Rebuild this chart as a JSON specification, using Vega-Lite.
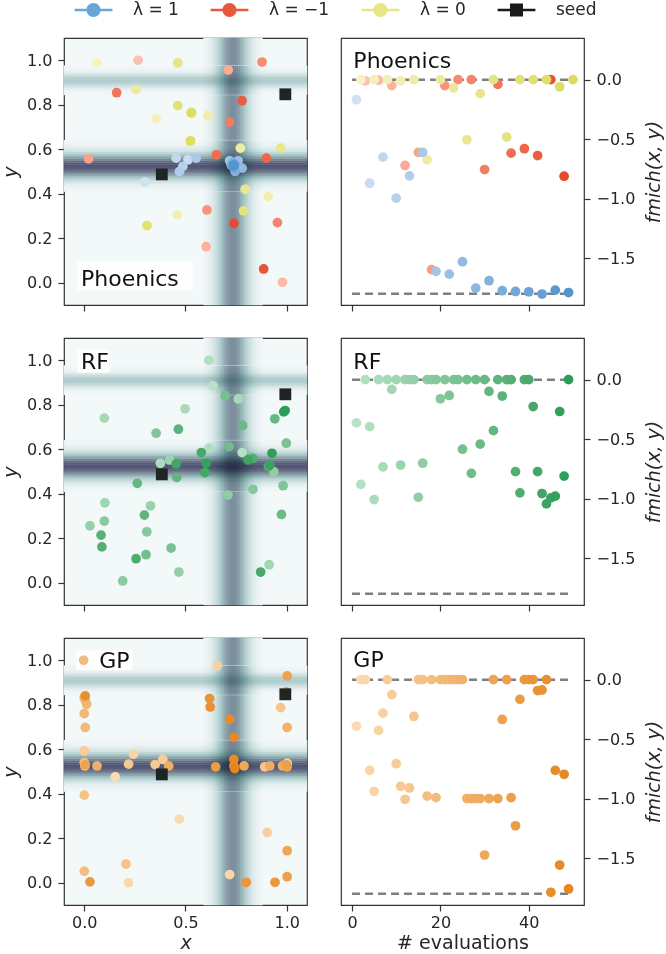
{
"$schema":"https://vega.github.io/schema/vega-lite/v6.json",
"background":"white",
"padding":{"left":0,"top":0,"right":2,"bottom":0},
"config":{
 "font":"DejaVu Sans",
 "view":{"stroke":"#333333","strokeWidth":1.2},
 "axis":{"domain":false,"grid":false,"ticks":true,"tickColor":"#333333","tickWidth":1.2,"tickSize":6,"labelFont":"DejaVu Sans","labelFontSize":16,"labelColor":"#262626","labelPadding":6,"titleFont":"DejaVu Sans","titleFontSize":19,"titleFontWeight":"normal","titleColor":"#262626","labelFlush":false,"labelOverlap":false},
 "axisY":{"titlePadding":6},
 "axisX":{"titlePadding":3.5,"labelPadding":3}
},
"datasets":{
 "bandsV":[{"x0":0.59,"x1":0.6,"f":-0.024},{"x0":0.6,"x1":0.61,"f":-0.039},{"x0":0.61,"x1":0.62,"f":-0.061},{"x0":0.62,"x1":0.63,"f":-0.092},{"x0":0.63,"x1":0.64,"f":-0.134},{"x0":0.64,"x1":0.65,"f":-0.188},{"x0":0.65,"x1":0.66,"f":-0.254},{"x0":0.66,"x1":0.67,"f":-0.333},{"x0":0.67,"x1":0.68,"f":-0.42},{"x0":0.68,"x1":0.69,"f":-0.511},{"x0":0.69,"x1":0.7,"f":-0.601},{"x0":0.7,"x1":0.71,"f":-0.681},{"x0":0.71,"x1":0.72,"f":-0.745},{"x0":0.72,"x1":0.73,"f":-0.786},{"x0":0.73,"x1":0.74,"f":-0.8},{"x0":0.74,"x1":0.75,"f":-0.786},{"x0":0.75,"x1":0.76,"f":-0.745},{"x0":0.76,"x1":0.77,"f":-0.681},{"x0":0.77,"x1":0.78,"f":-0.601},{"x0":0.78,"x1":0.79,"f":-0.511},{"x0":0.79,"x1":0.8,"f":-0.42},{"x0":0.8,"x1":0.81,"f":-0.333},{"x0":0.81,"x1":0.82,"f":-0.254},{"x0":0.82,"x1":0.83,"f":-0.188},{"x0":0.83,"x1":0.84,"f":-0.134},{"x0":0.84,"x1":0.85,"f":-0.092},{"x0":0.85,"x1":0.86,"f":-0.061},{"x0":0.86,"x1":0.87,"f":-0.039},{"x0":0.87,"x1":0.88,"f":-0.024}],
 "bandsH":[{"y0":0.41,"y1":0.42,"f":-0.015},{"y0":0.42,"y1":0.43,"f":-0.031},{"y0":0.43,"y1":0.44,"f":-0.063},{"y0":0.44,"y1":0.45,"f":-0.114},{"y0":0.45,"y1":0.46,"f":-0.195},{"y0":0.46,"y1":0.47,"f":-0.31},{"y0":0.47,"y1":0.48,"f":-0.459},{"y0":0.48,"y1":0.49,"f":-0.633},{"y0":0.49,"y1":0.5,"f":-0.812},{"y0":0.5,"y1":0.51,"f":-0.971},{"y0":0.51,"y1":0.52,"f":-1.081},{"y0":0.52,"y1":0.53,"f":-1.12},{"y0":0.53,"y1":0.54,"f":-1.081},{"y0":0.54,"y1":0.55,"f":-0.971},{"y0":0.55,"y1":0.56,"f":-0.812},{"y0":0.56,"y1":0.57,"f":-0.633},{"y0":0.57,"y1":0.58,"f":-0.459},{"y0":0.58,"y1":0.59,"f":-0.31},{"y0":0.59,"y1":0.6,"f":-0.195},{"y0":0.6,"y1":0.61,"f":-0.114},{"y0":0.61,"y1":0.62,"f":-0.063},{"y0":0.62,"y1":0.63,"f":-0.031},{"y0":0.63,"y1":0.64,"f":-0.015},{"y0":0.845,"y1":0.855,"f":-0.009},{"y0":0.855,"y1":0.865,"f":-0.028},{"y0":0.865,"y1":0.875,"f":-0.074},{"y0":0.875,"y1":0.885,"f":-0.156},{"y0":0.885,"y1":0.895,"f":-0.267},{"y0":0.895,"y1":0.905,"f":-0.368},{"y0":0.905,"y1":0.915,"f":-0.41},{"y0":0.915,"y1":0.925,"f":-0.368},{"y0":0.925,"y1":0.935,"f":-0.267},{"y0":0.935,"y1":0.945,"f":-0.156},{"y0":0.945,"y1":0.955,"f":-0.074},{"y0":0.955,"y1":0.965,"f":-0.028},{"y0":0.965,"y1":0.975,"f":-0.009}],
 "phoenics":[{"e":1,"lam":1,"x":0.3,"y":0.452,"f":-0.169},{"e":2,"lam":0,"x":0.061,"y":0.988,"f":0},{"e":3,"lam":-1,"x":0.266,"y":1.0,"f":-0.01},{"e":4,"lam":1,"x":0.512,"y":0.553,"f":-0.871},{"e":5,"lam":0,"x":0.355,"y":0.737,"f":0},{"e":6,"lam":-1,"x":0.979,"y":0.002,"f":-0.005},{"e":7,"lam":1,"x":0.454,"y":0.56,"f":-0.652},{"e":8,"lam":0,"x":0.459,"y":0.305,"f":0},{"e":9,"lam":-1,"x":0.602,"y":0.162,"f":-0.05},{"e":10,"lam":1,"x":0.487,"y":0.523,"f":-0.997},{"e":11,"lam":0,"x":0.909,"y":0.387,"f":-0.01},{"e":12,"lam":-1,"x":0.711,"y":0.956,"f":-0.722},{"e":13,"lam":1,"x":0.47,"y":0.5,"f":-0.809},{"e":14,"lam":0,"x":0.611,"y":0.752,"f":0},{"e":15,"lam":-1,"x":0.021,"y":0.557,"f":-0.612},{"e":16,"lam":1,"x":0.553,"y":0.56,"f":-0.612},{"e":17,"lam":0,"x":0.771,"y":0.605,"f":-0.674},{"e":18,"lam":-1,"x":0.728,"y":0.535,"f":-1.598},{"e":19,"lam":1,"x":0.718,"y":0.548,"f":-1.612},{"e":20,"lam":0,"x":0.256,"y":0.868,"f":0},{"e":21,"lam":-1,"x":0.606,"y":0.327,"f":-0.05},{"e":22,"lam":1,"x":0.76,"y":0.548,"f":-1.635},{"e":23,"lam":0,"x":0.523,"y":0.635,"f":-0.07},{"e":24,"lam":-1,"x":0.878,"y":0.992,"f":0},{"e":25,"lam":1,"x":0.78,"y":0.515,"f":-1.531},{"e":26,"lam":0,"x":0.795,"y":0.42,"f":-0.506},{"e":27,"lam":-1,"x":0.954,"y":0.27,"f":0},{"e":28,"lam":1,"x":0.725,"y":0.53,"f":-1.753},{"e":29,"lam":0,"x":0.97,"y":0.605,"f":-0.118},{"e":30,"lam":-1,"x":0.718,"y":0.722,"f":-0.756},{"e":31,"lam":1,"x":0.745,"y":0.5,"f":-1.691},{"e":32,"lam":0,"x":0.462,"y":0.988,"f":0},{"e":33,"lam":-1,"x":0.16,"y":0.854,"f":-0.04},{"e":34,"lam":1,"x":0.735,"y":0.54,"f":-1.775},{"e":35,"lam":0,"x":0.787,"y":0.323,"f":-0.483},{"e":36,"lam":-1,"x":0.653,"y":0.575,"f":-0.618},{"e":37,"lam":1,"x":0.74,"y":0.515,"f":-1.781},{"e":38,"lam":0,"x":0.462,"y":0.796,"f":0},{"e":39,"lam":-1,"x":0.899,"y":0.56,"f":-0.581},{"e":40,"lam":1,"x":0.732,"y":0.525,"f":-1.784},{"e":41,"lam":0,"x":0.31,"y":0.257,"f":0},{"e":42,"lam":-1,"x":0.779,"y":0.818,"f":-0.638},{"e":43,"lam":1,"x":0.738,"y":0.522,"f":-1.803},{"e":44,"lam":0,"x":0.528,"y":0.763,"f":0},{"e":45,"lam":-1,"x":0.886,"y":0.062,"f":0},{"e":46,"lam":1,"x":0.742,"y":0.53,"f":-1.77},{"e":47,"lam":0,"x":0.525,"y":0.638,"f":-0.06},{"e":48,"lam":-1,"x":0.739,"y":0.267,"f":-0.812},{"e":49,"lam":1,"x":0.736,"y":0.527,"f":-1.79},{"e":50,"lam":0,"x":0.53,"y":0.765,"f":0}],
 "rf":[{"e":1,"x":0.635,"y":0.886,"f":-0.364},{"e":2,"x":0.78,"y":0.585,"f":-0.881},{"e":3,"x":0.616,"y":1.0,"f":0},{"e":4,"x":0.616,"y":0.605,"f":-0.395},{"e":5,"x":0.376,"y":0.537,"f":-1.008},{"e":6,"x":0.498,"y":0.782,"f":0},{"e":7,"x":0.761,"y":0.826,"f":-0.734},{"e":8,"x":0.099,"y":0.74,"f":0},{"e":9,"x":0.913,"y":0.081,"f":-0.082},{"e":10,"x":0.102,"y":0.359,"f":0},{"e":11,"x":0.421,"y":0.552,"f":-0.718},{"e":12,"x":0.327,"y":0.346,"f":0},{"e":13,"x":0.028,"y":0.256,"f":0},{"e":14,"x":0.467,"y":0.048,"f":0},{"e":15,"x":0.936,"y":0.499,"f":-0.989},{"e":16,"x":0.71,"y":0.394,"f":-0.703},{"e":17,"x":0.19,"y":0.008,"f":0},{"e":18,"x":0.099,"y":0.277,"f":0},{"e":19,"x":0.309,"y":0.229,"f":0},{"e":20,"x":0.833,"y":0.42,"f":-0.161},{"e":21,"x":0.355,"y":0.672,"f":0},{"e":22,"x":0.982,"y":0.436,"f":-0.133},{"e":23,"x":0.998,"y":0.627,"f":0},{"e":24,"x":0.429,"y":0.156,"f":0},{"e":25,"x":0.696,"y":0.841,"f":-0.585},{"e":26,"x":0.305,"y":0.126,"f":0},{"e":27,"x":0.715,"y":0.612,"f":-0.788},{"e":28,"x":0.974,"y":0.307,"f":0},{"e":29,"x":0.782,"y":0.707,"f":-0.542},{"e":30,"x":0.941,"y":0.737,"f":0},{"e":31,"x":0.262,"y":0.447,"f":-0.099},{"e":32,"x":0.457,"y":0.474,"f":-0.429},{"e":33,"x":0.297,"y":0.304,"f":0},{"e":34,"x":0.465,"y":0.69,"f":-0.138},{"e":35,"x":0.083,"y":0.214,"f":0},{"e":36,"x":0.087,"y":0.161,"f":0},{"e":37,"x":0.833,"y":0.559,"f":-0.774},{"e":38,"x":0.909,"y":0.522,"f":-0.952},{"e":39,"x":0.256,"y":0.108,"f":0},{"e":40,"x":0.871,"y":0.048,"f":0},{"e":41,"x":0.578,"y":0.585,"f":-0.226},{"e":42,"x":0.596,"y":0.495,"f":-0.774},{"e":43,"x":0.454,"y":0.534,"f":-0.958},{"e":44,"x":0.809,"y":0.552,"f":-1.045},{"e":45,"x":0.916,"y":0.529,"f":-0.994},{"e":46,"x":0.602,"y":0.537,"f":-0.98},{"e":47,"x":0.927,"y":0.582,"f":-0.268},{"e":48,"x":0.985,"y":0.768,"f":-0.811},{"e":49,"x":0.992,"y":0.774,"f":0}],
 "gp":[{"e":1,"x":0.153,"y":0.476,"f":-0.391},{"e":2,"x":0.47,"y":0.286,"f":0},{"e":3,"x":0.219,"y":0.0,"f":0},{"e":4,"x":0.718,"y":0.037,"f":-0.763},{"e":5,"x":1.002,"y":0.536,"f":-0.939},{"e":6,"x":0.243,"y":0.578,"f":-0.427},{"e":7,"x":0.657,"y":0.975,"f":-0.282},{"e":8,"x":0.904,"y":0.226,"f":0},{"e":9,"x":0.0,"y":0.593,"f":-0.126},{"e":10,"x":0.388,"y":0.554,"f":-0.707},{"e":11,"x":0.35,"y":0.531,"f":-0.897},{"e":12,"x":0.219,"y":0.533,"f":-1.006},{"e":13,"x":0.891,"y":0.521,"f":-0.911},{"e":14,"x":0.97,"y":0.787,"f":-0.31},{"e":15,"x":0.206,"y":0.084,"f":0},{"e":16,"x":0.0,"y":0.394,"f":0},{"e":17,"x":0.0,"y":0.54,"f":-0.98},{"e":18,"x":0.0,"y":0.052,"f":0},{"e":19,"x":0.003,"y":0.525,"f":-0.992},{"e":20,"x":0.005,"y":0.698,"f":0},{"e":21,"x":0.0,"y":0.76,"f":0},{"e":22,"x":0.012,"y":0.802,"f":0},{"e":23,"x":0.005,"y":0.82,"f":0},{"e":24,"x":0.0,"y":0.832,"f":0},{"e":25,"x":1.002,"y":0.698,"f":0},{"e":26,"x":0.063,"y":0.525,"f":-1.0},{"e":27,"x":0.417,"y":0.525,"f":-1.0},{"e":28,"x":0.916,"y":0.525,"f":-1.0},{"e":29,"x":0.979,"y":0.525,"f":-1.0},{"e":30,"x":0.789,"y":0.525,"f":-1.475},{"e":31,"x":1.002,"y":0.521,"f":-1.0},{"e":32,"x":1.002,"y":0.144,"f":0},{"e":33,"x":0.005,"y":0.53,"f":-1.0},{"e":34,"x":1.002,"y":0.93,"f":-0.335},{"e":35,"x":1.002,"y":0.027,"f":0},{"e":36,"x":0.998,"y":0.53,"f":-0.992},{"e":37,"x":0.649,"y":0.521,"f":-1.229},{"e":38,"x":0.998,"y":0.858,"f":-0.165},{"e":39,"x":0.028,"y":0.004,"f":0},{"e":40,"x":0.942,"y":0.002,"f":0},{"e":41,"x":0.8,"y":0.002,"f":0},{"e":42,"x":0.619,"y":0.828,"f":-0.092},{"e":43,"x":0.622,"y":0.79,"f":-0.087},{"e":44,"x":0.005,"y":0.84,"f":0},{"e":45,"x":0.739,"y":0.525,"f":-1.788},{"e":46,"x":0.718,"y":0.735,"f":-0.763},{"e":47,"x":0.739,"y":0.554,"f":-1.559},{"e":48,"x":0.739,"y":0.653,"f":-0.796},{"e":49,"x":0.743,"y":0.513,"f":-1.76}],
 "seeds":[{"x":0.383,"y":0.487},{"x":0.993,"y":0.847}],
 "levels":[{"lo":0,"hi":50,"level":0},{"lo":0,"hi":50,"level":-1.8013}],
 "legendItems":[{"s":"λ = 1"},{"s":"λ = −1"},{"s":"λ = 0"},{"s":"seed"}]
},
"columns":2,
"spacing":{"row":33,"column":34},
"bounds":"flush",
"resolve":{"scale":{"color":"independent","fill":"independent","stroke":"independent","shape":"independent"}},
"concat":[
 {"width":243,"height":267,"view":{"fill":"#f3f8f9"},
  "resolve":{"scale":{"color":"independent","fill":"independent","stroke":"independent","shape":"independent"}},
  "layer":[
   {"data":{"name":"bandsV"},"mark":{"type":"rect","strokeWidth":0.6},"encoding":{"x":{"field":"x0","type":"quantitative","scale":{"domain":[-0.1,1.1],"nice":false,"zero":false},"axis":{"values":[0,0.5,1],"labels":false,"title":null}},"x2":{"field":"x1"},"y":{"datum":-0.1,"type":"quantitative","scale":{"domain":[-0.1,1.1],"nice":false,"zero":false},"axis":{"values":[0,0.2,0.4,0.6,0.8,1],"format":".1f","title":"y","titleFontStyle":"italic"}},"y2":{"datum":1.1},"fill":{"field":"f","type":"quantitative","scale":{"domain":[-1.8,-1.143,-0.457,0],"range":["#000000","#515171","#a6c6c6","#f3f8f9"],"interpolate":"rgb","clamp":true},"legend":null},"stroke":{"field":"f","type":"quantitative","scale":{"domain":[-1.8,-1.143,-0.457,0],"range":["#000000","#515171","#a6c6c6","#f3f8f9"],"interpolate":"rgb","clamp":true},"legend":null}}},
   {"data":{"name":"bandsH"},"mark":{"type":"rect","strokeWidth":0.6},"encoding":{"x":{"datum":-0.1,"type":"quantitative","scale":{"domain":[-0.1,1.1],"nice":false,"zero":false}},"x2":{"datum":1.1},"y":{"field":"y0","type":"quantitative","scale":{"domain":[-0.1,1.1],"nice":false,"zero":false}},"y2":{"field":"y1"},"fill":{"field":"f","type":"quantitative","scale":{"domain":[-1.8,-1.143,-0.457,0],"range":["#000000","#515171","#a6c6c6","#f3f8f9"],"interpolate":"rgb","clamp":true},"legend":null},"stroke":{"field":"f","type":"quantitative","scale":{"domain":[-1.8,-1.143,-0.457,0],"range":["#000000","#515171","#a6c6c6","#f3f8f9"],"interpolate":"rgb","clamp":true},"legend":null}}},
   {"data":{"name":"bandsV"},"mark":{"type":"rect","blend":"multiply"},"encoding":{"x":{"field":"x0","type":"quantitative","scale":{"domain":[-0.1,1.1],"nice":false,"zero":false}},"x2":{"field":"x1"},"y":{"datum":0.41,"type":"quantitative","scale":{"domain":[-0.1,1.1],"nice":false,"zero":false}},"y2":{"datum":0.64},"fill":{"field":"f","type":"quantitative","scale":{"domain":[-1.8,-1.143,-0.457,0],"range":["#000000","#515171","#a6c6c6","#ffffff"],"interpolate":"rgb","clamp":true},"legend":null}}},
   {"data":{"name":"bandsV"},"mark":{"type":"rect","blend":"multiply"},"encoding":{"x":{"field":"x0","type":"quantitative","scale":{"domain":[-0.1,1.1],"nice":false,"zero":false}},"x2":{"field":"x1"},"y":{"datum":0.845,"type":"quantitative","scale":{"domain":[-0.1,1.1],"nice":false,"zero":false}},"y2":{"datum":0.975},"fill":{"field":"f","type":"quantitative","scale":{"domain":[-1.8,-1.143,-0.457,0],"range":["#000000","#515171","#a6c6c6","#ffffff"],"interpolate":"rgb","clamp":true},"legend":null}}},
   {"data":{"name":"phoenics"},"transform":[{"filter":"datum.lam == -1"}],"mark":{"type":"circle","size":95,"opacity":1},"encoding":{"x":{"field":"x","type":"quantitative","scale":{"domain":[-0.1,1.1],"nice":false,"zero":false}},"y":{"field":"y","type":"quantitative","scale":{"domain":[-0.1,1.1],"nice":false,"zero":false}},"color":{"field":"e","type":"quantitative","scale":{"domain":[1,50],"range":["#fcc5b6","#e4442a"]},"legend":null}}},
   {"data":{"name":"phoenics"},"transform":[{"filter":"datum.lam == 0"}],"mark":{"type":"circle","size":95,"opacity":1},"encoding":{"x":{"field":"x","type":"quantitative","scale":{"domain":[-0.1,1.1],"nice":false,"zero":false}},"y":{"field":"y","type":"quantitative","scale":{"domain":[-0.1,1.1],"nice":false,"zero":false}},"color":{"field":"e","type":"quantitative","scale":{"domain":[1,50],"range":["#f5f3c6","#dcdd5e"]},"legend":null}}},
   {"data":{"name":"phoenics"},"transform":[{"filter":"datum.lam == 1"}],"mark":{"type":"circle","size":95,"opacity":1},"encoding":{"x":{"field":"x","type":"quantitative","scale":{"domain":[-0.1,1.1],"nice":false,"zero":false}},"y":{"field":"y","type":"quantitative","scale":{"domain":[-0.1,1.1],"nice":false,"zero":false}},"color":{"field":"e","type":"quantitative","scale":{"domain":[1,50],"range":["#cfe1f2","#4f93cf"]},"legend":null}}},
   {"data":{"name":"seeds"},"mark":{"type":"square","size":140,"opacity":1,"color":"#1f2424"},"encoding":{"x":{"field":"x","type":"quantitative","scale":{"domain":[-0.1,1.1],"nice":false,"zero":false}},"y":{"field":"y","type":"quantitative","scale":{"domain":[-0.1,1.1],"nice":false,"zero":false}}}},
   {"data":{"values":[{"label":"Phoenics"}]},"mark":{"type":"rect","color":"#ffffff","opacity":0.85},"encoding":{"x":{"datum":-0.035,"type":"quantitative","scale":{"domain":[-0.1,1.1],"nice":false,"zero":false}},"x2":{"datum":0.535},"y":{"datum":-0.033,"type":"quantitative","scale":{"domain":[-0.1,1.1],"nice":false,"zero":false}},"y2":{"datum":0.095}}},
   {"data":{"values":[{"label":"Phoenics"}]},"mark":{"type":"text","align":"left","baseline":"alphabetic","fontSize":22,"color":"#111111"},"encoding":{"x":{"datum":-0.016,"type":"quantitative","scale":{"domain":[-0.1,1.1],"nice":false,"zero":false}},"y":{"datum":-0.015,"type":"quantitative","scale":{"domain":[-0.1,1.1],"nice":false,"zero":false}},"text":{"field":"label"}}},
   {"data":{"name":"legendItems"},"mark":{"type":"point","filled":true,"opacity":1,"clip":true},"encoding":{"x":{"datum":-5,"type":"quantitative","scale":{"domain":[-0.1,1.1],"nice":false,"zero":false}},"y":{"datum":-5,"type":"quantitative","scale":{"domain":[-0.1,1.1],"nice":false,"zero":false}},
     "color":{"field":"s","type":"nominal","scale":{"domain":["λ = 1","λ = −1","λ = 0","seed"],"range":["#6aa5d8","#e9573e","#e6e687","#1a1a1a"]},"legend":{"orient":"none","legendX":21,"legendY":-36.8,"direction":"horizontal","columns":4,"title":null,"labelFontSize":17,"labelColor":"#262626","labelFont":"DejaVu Sans","symbolSize":196,"symbolStrokeWidth":0,"symbolOpacity":1,"labelOffset":31,"columnPadding":31,"padding":0,"rowPadding":0}},
     "shape":{"field":"s","type":"nominal","scale":{"domain":["λ = 1","λ = −1","λ = 0","seed"],"range":["M-2.7,-0.18H2.7V0.18H-2.7ZM-1,0A1,1,0,1,1,1,0A1,1,0,1,1,-1,0Z","M-2.7,-0.18H2.7V0.18H-2.7ZM-1,0A1,1,0,1,1,1,0A1,1,0,1,1,-1,0Z","M-2.7,-0.18H2.7V0.18H-2.7ZM-1,0A1,1,0,1,1,1,0A1,1,0,1,1,-1,0Z","M-2.7,-0.18H2.7V0.18H-2.7ZM-0.93,-0.93H0.93V0.93H-0.93Z"]},"legend":{"orient":"none","legendX":21,"legendY":-36.8,"direction":"horizontal","columns":4,"title":null,"labelFontSize":17,"labelColor":"#262626","labelFont":"DejaVu Sans","symbolSize":196,"symbolStrokeWidth":0,"symbolOpacity":1,"labelOffset":31,"columnPadding":31,"padding":0,"rowPadding":0}}}}
  ]},
 {"width":243,"height":267,
  "resolve":{"scale":{"color":"independent","fill":"independent","stroke":"independent","shape":"independent"}},
  "layer":[
   {"data":{"name":"levels"},"mark":{"type":"rule","strokeDash":[8,5],"strokeWidth":2.5,"color":"#7f7f7f"},"encoding":{"x":{"field":"lo","type":"quantitative","scale":{"domain":[-2.5,52.5],"nice":false,"zero":false},"axis":{"values":[0,20,40],"labels":false,"title":null}},"x2":{"field":"hi"},"y":{"field":"level","type":"quantitative","scale":{"domain":[-1.895,0.35],"nice":false,"zero":false},"axis":{"orient":"right","values":[0,-0.5,-1,-1.5],"format":".1f","title":"fmich(x, y)","titleFontStyle":"italic","titleAngle":270,"titleBaseline":"top","titlePadding":10}}}},
   {"data":{"name":"phoenics"},"transform":[{"filter":"datum.lam == -1"}],"mark":{"type":"circle","size":95,"opacity":1},"encoding":{"x":{"field":"e","type":"quantitative","scale":{"domain":[-2.5,52.5],"nice":false,"zero":false}},"y":{"field":"f","type":"quantitative","scale":{"domain":[-1.895,0.35],"nice":false,"zero":false}},"color":{"field":"e","type":"quantitative","scale":{"domain":[1,50],"range":["#fcc5b6","#e4442a"]},"legend":null}}},
   {"data":{"name":"phoenics"},"transform":[{"filter":"datum.lam == 0"}],"mark":{"type":"circle","size":95,"opacity":1},"encoding":{"x":{"field":"e","type":"quantitative","scale":{"domain":[-2.5,52.5],"nice":false,"zero":false}},"y":{"field":"f","type":"quantitative","scale":{"domain":[-1.895,0.35],"nice":false,"zero":false}},"color":{"field":"e","type":"quantitative","scale":{"domain":[1,50],"range":["#f5f3c6","#dcdd5e"]},"legend":null}}},
   {"data":{"name":"phoenics"},"transform":[{"filter":"datum.lam == 1"}],"mark":{"type":"circle","size":95,"opacity":1},"encoding":{"x":{"field":"e","type":"quantitative","scale":{"domain":[-2.5,52.5],"nice":false,"zero":false}},"y":{"field":"f","type":"quantitative","scale":{"domain":[-1.895,0.35],"nice":false,"zero":false}},"color":{"field":"e","type":"quantitative","scale":{"domain":[1,50],"range":["#cfe1f2","#4f93cf"]},"legend":null}}},
   {"data":{"values":[{"label":"Phoenics"}]},"mark":{"type":"text","align":"left","baseline":"alphabetic","fontSize":22,"color":"#111111"},"encoding":{"x":{"datum":0.3,"type":"quantitative","scale":{"domain":[-2.5,52.5],"nice":false,"zero":false}},"y":{"datum":0.1,"type":"quantitative","scale":{"domain":[-1.895,0.35],"nice":false,"zero":false}},"text":{"field":"label"}}}
  ]},
 {"width":243,"height":267,"view":{"fill":"#f3f8f9"},
  "resolve":{"scale":{"color":"independent","fill":"independent","stroke":"independent","shape":"independent"}},
  "layer":[
   {"data":{"name":"bandsV"},"mark":{"type":"rect","strokeWidth":0.6},"encoding":{"x":{"field":"x0","type":"quantitative","scale":{"domain":[-0.1,1.1],"nice":false,"zero":false},"axis":{"values":[0,0.5,1],"labels":false,"title":null}},"x2":{"field":"x1"},"y":{"datum":-0.1,"type":"quantitative","scale":{"domain":[-0.1,1.1],"nice":false,"zero":false},"axis":{"values":[0,0.2,0.4,0.6,0.8,1],"format":".1f","title":"y","titleFontStyle":"italic"}},"y2":{"datum":1.1},"fill":{"field":"f","type":"quantitative","scale":{"domain":[-1.8,-1.143,-0.457,0],"range":["#000000","#515171","#a6c6c6","#f3f8f9"],"interpolate":"rgb","clamp":true},"legend":null},"stroke":{"field":"f","type":"quantitative","scale":{"domain":[-1.8,-1.143,-0.457,0],"range":["#000000","#515171","#a6c6c6","#f3f8f9"],"interpolate":"rgb","clamp":true},"legend":null}}},
   {"data":{"name":"bandsH"},"mark":{"type":"rect","strokeWidth":0.6},"encoding":{"x":{"datum":-0.1,"type":"quantitative","scale":{"domain":[-0.1,1.1],"nice":false,"zero":false}},"x2":{"datum":1.1},"y":{"field":"y0","type":"quantitative","scale":{"domain":[-0.1,1.1],"nice":false,"zero":false}},"y2":{"field":"y1"},"fill":{"field":"f","type":"quantitative","scale":{"domain":[-1.8,-1.143,-0.457,0],"range":["#000000","#515171","#a6c6c6","#f3f8f9"],"interpolate":"rgb","clamp":true},"legend":null},"stroke":{"field":"f","type":"quantitative","scale":{"domain":[-1.8,-1.143,-0.457,0],"range":["#000000","#515171","#a6c6c6","#f3f8f9"],"interpolate":"rgb","clamp":true},"legend":null}}},
   {"data":{"name":"bandsV"},"mark":{"type":"rect","blend":"multiply"},"encoding":{"x":{"field":"x0","type":"quantitative","scale":{"domain":[-0.1,1.1],"nice":false,"zero":false}},"x2":{"field":"x1"},"y":{"datum":0.41,"type":"quantitative","scale":{"domain":[-0.1,1.1],"nice":false,"zero":false}},"y2":{"datum":0.64},"fill":{"field":"f","type":"quantitative","scale":{"domain":[-1.8,-1.143,-0.457,0],"range":["#000000","#515171","#a6c6c6","#ffffff"],"interpolate":"rgb","clamp":true},"legend":null}}},
   {"data":{"name":"bandsV"},"mark":{"type":"rect","blend":"multiply"},"encoding":{"x":{"field":"x0","type":"quantitative","scale":{"domain":[-0.1,1.1],"nice":false,"zero":false}},"x2":{"field":"x1"},"y":{"datum":0.845,"type":"quantitative","scale":{"domain":[-0.1,1.1],"nice":false,"zero":false}},"y2":{"datum":0.975},"fill":{"field":"f","type":"quantitative","scale":{"domain":[-1.8,-1.143,-0.457,0],"range":["#000000","#515171","#a6c6c6","#ffffff"],"interpolate":"rgb","clamp":true},"legend":null}}},
   {"data":{"name":"rf"},"mark":{"type":"circle","size":95,"opacity":1},"encoding":{"x":{"field":"x","type":"quantitative","scale":{"domain":[-0.1,1.1],"nice":false,"zero":false}},"y":{"field":"y","type":"quantitative","scale":{"domain":[-0.1,1.1],"nice":false,"zero":false}},"color":{"field":"e","type":"quantitative","scale":{"domain":[1,49],"range":["#b7e2c7","#2a9d56"]},"legend":null}}},
   {"data":{"name":"seeds"},"mark":{"type":"square","size":140,"opacity":1,"color":"#1f2424"},"encoding":{"x":{"field":"x","type":"quantitative","scale":{"domain":[-0.1,1.1],"nice":false,"zero":false}},"y":{"field":"y","type":"quantitative","scale":{"domain":[-0.1,1.1],"nice":false,"zero":false}}}},
   {"data":{"values":[{"label":"RF"}]},"mark":{"type":"rect","color":"#ffffff","opacity":0.85},"encoding":{"x":{"datum":-0.035,"type":"quantitative","scale":{"domain":[-0.1,1.1],"nice":false,"zero":false}},"x2":{"datum":0.124},"y":{"datum":0.944,"type":"quantitative","scale":{"domain":[-0.1,1.1],"nice":false,"zero":false}},"y2":{"datum":1.048}}},
   {"data":{"values":[{"label":"RF"}]},"mark":{"type":"text","align":"left","baseline":"alphabetic","fontSize":22,"color":"#111111"},"encoding":{"x":{"datum":-0.016,"type":"quantitative","scale":{"domain":[-0.1,1.1],"nice":false,"zero":false}},"y":{"datum":0.961,"type":"quantitative","scale":{"domain":[-0.1,1.1],"nice":false,"zero":false}},"text":{"field":"label"}}}
  ]},
 {"width":243,"height":267,
  "resolve":{"scale":{"color":"independent","fill":"independent","stroke":"independent","shape":"independent"}},
  "layer":[
   {"data":{"name":"levels"},"mark":{"type":"rule","strokeDash":[8,5],"strokeWidth":2.5,"color":"#7f7f7f"},"encoding":{"x":{"field":"lo","type":"quantitative","scale":{"domain":[-2.5,52.5],"nice":false,"zero":false},"axis":{"values":[0,20,40],"labels":false,"title":null}},"x2":{"field":"hi"},"y":{"field":"level","type":"quantitative","scale":{"domain":[-1.895,0.35],"nice":false,"zero":false},"axis":{"orient":"right","values":[0,-0.5,-1,-1.5],"format":".1f","title":"fmich(x, y)","titleFontStyle":"italic","titleAngle":270,"titleBaseline":"top","titlePadding":10}}}},
   {"data":{"name":"rf"},"mark":{"type":"circle","size":95,"opacity":1},"encoding":{"x":{"field":"e","type":"quantitative","scale":{"domain":[-2.5,52.5],"nice":false,"zero":false}},"y":{"field":"f","type":"quantitative","scale":{"domain":[-1.895,0.35],"nice":false,"zero":false}},"color":{"field":"e","type":"quantitative","scale":{"domain":[1,49],"range":["#b7e2c7","#2a9d56"]},"legend":null}}},
   {"data":{"values":[{"label":"RF"}]},"mark":{"type":"text","align":"left","baseline":"alphabetic","fontSize":22,"color":"#111111"},"encoding":{"x":{"datum":0.3,"type":"quantitative","scale":{"domain":[-2.5,52.5],"nice":false,"zero":false}},"y":{"datum":0.093,"type":"quantitative","scale":{"domain":[-1.895,0.35],"nice":false,"zero":false}},"text":{"field":"label"}}}
  ]},
 {"width":243,"height":267,"view":{"fill":"#f3f8f9"},
  "resolve":{"scale":{"color":"independent","fill":"independent","stroke":"independent","shape":"independent"}},
  "layer":[
   {"data":{"name":"bandsV"},"mark":{"type":"rect","strokeWidth":0.6},"encoding":{"x":{"field":"x0","type":"quantitative","scale":{"domain":[-0.1,1.1],"nice":false,"zero":false},"axis":{"values":[0,0.5,1],"format":".1f","title":"x","titleFontStyle":"italic"}},"x2":{"field":"x1"},"y":{"datum":-0.1,"type":"quantitative","scale":{"domain":[-0.1,1.1],"nice":false,"zero":false},"axis":{"values":[0,0.2,0.4,0.6,0.8,1],"format":".1f","title":"y","titleFontStyle":"italic"}},"y2":{"datum":1.1},"fill":{"field":"f","type":"quantitative","scale":{"domain":[-1.8,-1.143,-0.457,0],"range":["#000000","#515171","#a6c6c6","#f3f8f9"],"interpolate":"rgb","clamp":true},"legend":null},"stroke":{"field":"f","type":"quantitative","scale":{"domain":[-1.8,-1.143,-0.457,0],"range":["#000000","#515171","#a6c6c6","#f3f8f9"],"interpolate":"rgb","clamp":true},"legend":null}}},
   {"data":{"name":"bandsH"},"mark":{"type":"rect","strokeWidth":0.6},"encoding":{"x":{"datum":-0.1,"type":"quantitative","scale":{"domain":[-0.1,1.1],"nice":false,"zero":false}},"x2":{"datum":1.1},"y":{"field":"y0","type":"quantitative","scale":{"domain":[-0.1,1.1],"nice":false,"zero":false}},"y2":{"field":"y1"},"fill":{"field":"f","type":"quantitative","scale":{"domain":[-1.8,-1.143,-0.457,0],"range":["#000000","#515171","#a6c6c6","#f3f8f9"],"interpolate":"rgb","clamp":true},"legend":null},"stroke":{"field":"f","type":"quantitative","scale":{"domain":[-1.8,-1.143,-0.457,0],"range":["#000000","#515171","#a6c6c6","#f3f8f9"],"interpolate":"rgb","clamp":true},"legend":null}}},
   {"data":{"name":"bandsV"},"mark":{"type":"rect","blend":"multiply"},"encoding":{"x":{"field":"x0","type":"quantitative","scale":{"domain":[-0.1,1.1],"nice":false,"zero":false}},"x2":{"field":"x1"},"y":{"datum":0.41,"type":"quantitative","scale":{"domain":[-0.1,1.1],"nice":false,"zero":false}},"y2":{"datum":0.64},"fill":{"field":"f","type":"quantitative","scale":{"domain":[-1.8,-1.143,-0.457,0],"range":["#000000","#515171","#a6c6c6","#ffffff"],"interpolate":"rgb","clamp":true},"legend":null}}},
   {"data":{"name":"bandsV"},"mark":{"type":"rect","blend":"multiply"},"encoding":{"x":{"field":"x0","type":"quantitative","scale":{"domain":[-0.1,1.1],"nice":false,"zero":false}},"x2":{"field":"x1"},"y":{"datum":0.845,"type":"quantitative","scale":{"domain":[-0.1,1.1],"nice":false,"zero":false}},"y2":{"datum":0.975},"fill":{"field":"f","type":"quantitative","scale":{"domain":[-1.8,-1.143,-0.457,0],"range":["#000000","#515171","#a6c6c6","#ffffff"],"interpolate":"rgb","clamp":true},"legend":null}}},
   {"data":{"name":"gp"},"mark":{"type":"circle","size":95,"opacity":1},"encoding":{"x":{"field":"x","type":"quantitative","scale":{"domain":[-0.1,1.1],"nice":false,"zero":false}},"y":{"field":"y","type":"quantitative","scale":{"domain":[-0.1,1.1],"nice":false,"zero":false}},"color":{"field":"e","type":"quantitative","scale":{"domain":[1,49],"range":["#fadbb3","#e6861f"]},"legend":null}}},
   {"data":{"name":"seeds"},"mark":{"type":"square","size":140,"opacity":1,"color":"#1f2424"},"encoding":{"x":{"field":"x","type":"quantitative","scale":{"domain":[-0.1,1.1],"nice":false,"zero":false}},"y":{"field":"y","type":"quantitative","scale":{"domain":[-0.1,1.1],"nice":false,"zero":false}}}},
   {"data":{"values":[{"label":"GP"}]},"mark":{"type":"rect","color":"#ffffff","opacity":0.85},"encoding":{"x":{"datum":-0.04,"type":"quantitative","scale":{"domain":[-0.1,1.1],"nice":false,"zero":false}},"x2":{"datum":0.238},"y":{"datum":0.955,"type":"quantitative","scale":{"domain":[-0.1,1.1],"nice":false,"zero":false}},"y2":{"datum":1.045}}},
   {"data":{"values":[{"label":"GP"}]},"mark":{"type":"circle","size":95,"opacity":1,"color":"#f2bb7e"},"encoding":{"x":{"datum":-0.003,"type":"quantitative","scale":{"domain":[-0.1,1.1],"nice":false,"zero":false}},"y":{"datum":1.0,"type":"quantitative","scale":{"domain":[-0.1,1.1],"nice":false,"zero":false}}}},
   {"data":{"values":[{"label":"GP"}]},"mark":{"type":"text","align":"left","baseline":"alphabetic","fontSize":22,"color":"#111111"},"encoding":{"x":{"datum":0.074,"type":"quantitative","scale":{"domain":[-0.1,1.1],"nice":false,"zero":false}},"y":{"datum":0.963,"type":"quantitative","scale":{"domain":[-0.1,1.1],"nice":false,"zero":false}},"text":{"field":"label"}}}
  ]},
 {"width":243,"height":267,
  "resolve":{"scale":{"color":"independent","fill":"independent","stroke":"independent","shape":"independent"}},
  "layer":[
   {"data":{"name":"levels"},"mark":{"type":"rule","strokeDash":[8,5],"strokeWidth":2.5,"color":"#7f7f7f"},"encoding":{"x":{"field":"lo","type":"quantitative","scale":{"domain":[-2.5,52.5],"nice":false,"zero":false},"axis":{"values":[0,20,40],"format":"d","title":"# evaluations"}},"x2":{"field":"hi"},"y":{"field":"level","type":"quantitative","scale":{"domain":[-1.895,0.35],"nice":false,"zero":false},"axis":{"orient":"right","values":[0,-0.5,-1,-1.5],"format":".1f","title":"fmich(x, y)","titleFontStyle":"italic","titleAngle":270,"titleBaseline":"top","titlePadding":10}}}},
   {"data":{"name":"gp"},"mark":{"type":"circle","size":95,"opacity":1},"encoding":{"x":{"field":"e","type":"quantitative","scale":{"domain":[-2.5,52.5],"nice":false,"zero":false}},"y":{"field":"f","type":"quantitative","scale":{"domain":[-1.895,0.35],"nice":false,"zero":false}},"color":{"field":"e","type":"quantitative","scale":{"domain":[1,49],"range":["#fadbb3","#e6861f"]},"legend":null}}},
   {"data":{"values":[{"label":"GP"}]},"mark":{"type":"text","align":"left","baseline":"alphabetic","fontSize":22,"color":"#111111"},"encoding":{"x":{"datum":0.3,"type":"quantitative","scale":{"domain":[-2.5,52.5],"nice":false,"zero":false}},"y":{"datum":0.103,"type":"quantitative","scale":{"domain":[-1.895,0.35],"nice":false,"zero":false}},"text":{"field":"label"}}}
  ]}
]
}
